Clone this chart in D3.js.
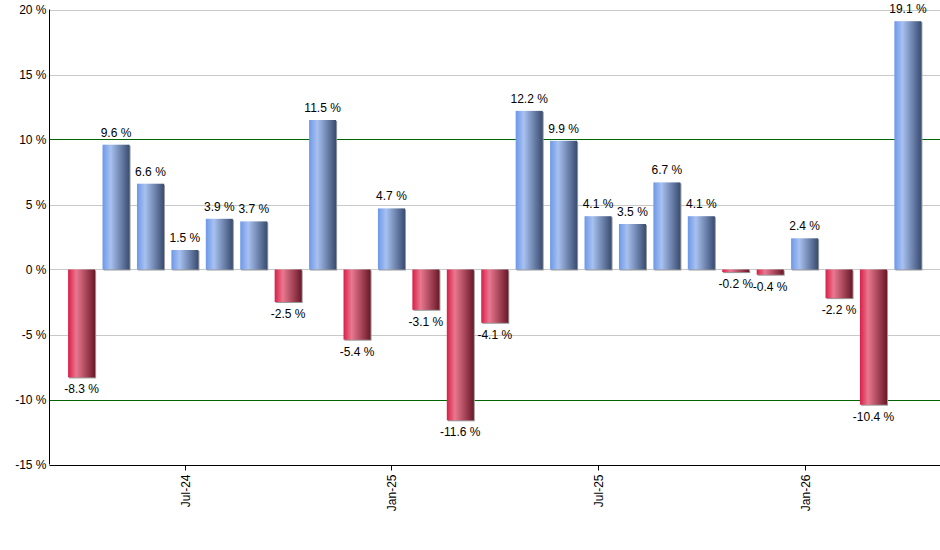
<!DOCTYPE html>
<html>
<head>
<meta charset="utf-8">
<script src="https://cdn.jsdelivr.net/npm/d3@7"></script>
<style>
  body { margin: 0; background: #fff; }
  text { font-family: "Liberation Sans", Arial, sans-serif; }
</style>
</head>
<body>
<div id="chart"></div>
<script>
// 月份（2024-04 ~ 2026-04）
const months = ["Apr-24","May-24","Jun-24","Jul-24","Aug-24","Sep-24","Oct-24","Nov-24","Dec-24",
  "Jan-25","Feb-25","Mar-25","Apr-25","May-25","Jun-25","Jul-25","Aug-25","Sep-25","Oct-25",
  "Nov-25","Dec-25","Jan-26","Feb-26","Mar-26","Apr-26"];
// 月度收益率 (%)
const returns = [-8.3, 9.6, 6.6, 1.5, 3.9, 3.7, -2.5, 11.5, -5.4, 4.7, -3.1, -11.6, -4.1,
  12.2, 9.9, 4.1, 3.5, 6.7, 4.1, -0.2, -0.4, 2.4, -2.2, -10.4, 19.1];
const tickMonths = ["Jul-24", "Jan-25", "Jul-25", "Jan-26"];
const yTicks = [-15, -10, -5, 0, 5, 10, 15, 20];

const W = 940, H = 550;
const m = { left: 49.5, right: 0, top: 9.5, bottom: 86 };

const svg = d3.select("#chart").append("svg")
  .attr("width", W).attr("height", H);

const x = d3.scaleBand()
  .domain(months)
  .range([m.left, W - m.right])
  .paddingInner(0.215)
  .paddingOuter(0.54);

const y = d3.scaleLinear()
  .domain([-15, 20])
  .range([H - m.bottom + 0.5, m.top]);

// 渐变定义
const defs = svg.append("defs");
function grad(id, c0, c1, c2) {
  const g = defs.append("linearGradient").attr("id", id)
    .attr("x1", "0%").attr("x2", "100%").attr("y1", "0%").attr("y2", "0%");
  g.append("stop").attr("offset", "0%").attr("stop-color", c0);
  g.append("stop").attr("offset", "30%").attr("stop-color", c1);
  g.append("stop").attr("offset", "100%").attr("stop-color", c2);
}
grad("g-pos", "#6c98e8", "#a8c1f0", "#394c70");
grad("g-neg", "#d81e48", "#e9788f", "#6a1828");

// 网格线
svg.append("g").selectAll("line")
  .data(yTicks.filter(d => d !== -15))
  .join("line")
  .attr("x1", m.left).attr("x2", W)
  .attr("y1", d => Math.round(y(d)) + 0.5).attr("y2", d => Math.round(y(d)) + 0.5)
  .attr("stroke", d => Math.abs(d) === 10 ? "#006400" : "#c8c8c8")
  .attr("stroke-width", 1);

// 柱子（带阴影）
const bars = svg.append("g");
const bw = x.bandwidth();
bars.selectAll("rect.shadow")
  .data(returns)
  .join("rect")
  .attr("class", "shadow")
  .attr("x", (d, i) => x(months[i]) + 1)
  .attr("y", d => Math.min(y(d), y(0)) + 1)
  .attr("width", bw)
  .attr("height", d => Math.abs(y(d) - y(0)))
  .attr("fill", "#999");
bars.selectAll("rect.bar")
  .data(returns)
  .join("rect")
  .attr("class", "bar")
  .attr("x", (d, i) => x(months[i]))
  .attr("y", d => Math.min(y(d), y(0)))
  .attr("width", bw)
  .attr("height", d => Math.abs(y(d) - y(0)))
  .attr("fill", d => d >= 0 ? "url(#g-pos)" : "url(#g-neg)");

// 数值标签
svg.append("g").selectAll("text")
  .data(returns)
  .join("text")
  .attr("x", (d, i) => x(months[i]) + bw / 2)
  .attr("y", d => d >= 0 ? y(d) - 8 : y(d) + 16)
  .attr("text-anchor", "middle")
  .style("font-size", "12px")
  .style("fill", "#000")
  .text(d => d.toFixed(1) + " %");

// Y 轴
svg.append("line")
  .attr("x1", m.left).attr("x2", m.left)
  .attr("y1", y(20)).attr("y2", y(-15))
  .attr("stroke", "#000");
svg.append("g").selectAll("text")
  .data(yTicks)
  .join("text")
  .attr("x", m.left - 3)
  .attr("y", d => y(d) + 4)
  .attr("text-anchor", "end")
  .style("font-size", "12px")
  .text(d => d + " %");

// X 轴
const x0 = Math.round(y(-15)) + 0.5;
svg.append("line")
  .attr("x1", m.left).attr("x2", W)
  .attr("y1", x0).attr("y2", x0)
  .attr("stroke", "#000");
const xt = svg.append("g").selectAll("g")
  .data(tickMonths)
  .join("g")
  .attr("transform", d => `translate(${Math.round(x(d) + bw / 2) + 0.5},${x0})`);
xt.append("line").attr("y2", 5).attr("stroke", "#000");
xt.append("text")
  .attr("transform", "rotate(-90)")
  .attr("x", -9).attr("y", 4)
  .attr("text-anchor", "end")
  .style("font-size", "12px")
  .text(d => d);
</script>
</body>
</html>
